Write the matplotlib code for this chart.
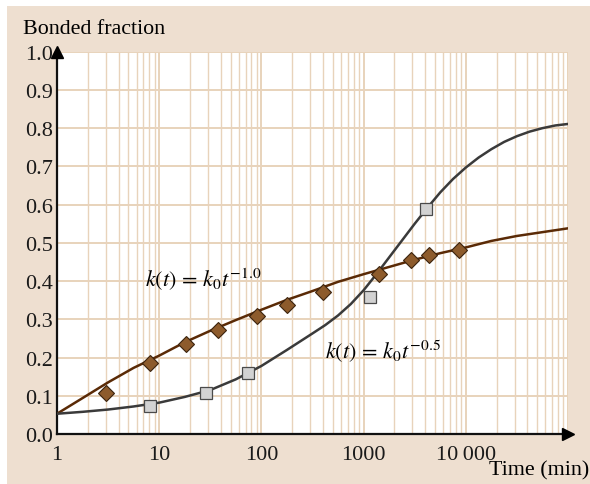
import numpy as np
import matplotlib
matplotlib.use('Agg')
import matplotlib.pyplot as plt
from matplotlib.patches import Rectangle
from matplotlib.ticker import FixedLocator, NullFormatter

plt.rcParams['font.family'] = ['Liberation Serif', 'DejaVu Serif']
plt.rcParams['mathtext.fontset'] = 'stix'

# Measured bonded fraction, t^-1.0 series (diamonds)
diamond_t = [3.0, 8.2, 18.3, 38, 90, 178, 404, 1425, 2910, 4400, 8650]
diamond_y = [0.107, 0.186, 0.236, 0.272, 0.308, 0.338, 0.372, 0.419, 0.454, 0.467, 0.482]

# Measured bonded fraction, t^-0.5 series (squares)
square_t = [8.2, 28.5, 73.5, 1164, 4075]
square_y = [0.0725, 0.107, 0.159, 0.359, 0.589]

# Model curve for k0*t^-1.0, quarter-decade steps from t = 1 to 1e5
m10_t = [1, 1.78, 3.16, 5.62, 10, 17.8, 31.6, 56.2, 100, 178, 316, 562,
         1000, 1778, 3162, 5623, 10000, 17783, 31623, 56234, 100000]
m10_y = [0.053, 0.094, 0.135, 0.173, 0.205, 0.240, 0.270, 0.298, 0.325,
         0.351, 0.374, 0.398, 0.418, 0.437, 0.456, 0.473, 0.488, 0.505,
         0.518, 0.528, 0.538]

# Model curve for k0*t^-0.5, finer steps where it bends most
m05_t = [1, 1.78, 3.16, 5.62, 10, 17.8, 31.6, 56.2, 100, 178, 316, 422, 562,
         750, 1000, 1334, 1778, 2371, 3162, 4217, 5623, 7499, 10000, 13335,
         17783, 23714, 31623, 42170, 56234, 74989, 100000]
m05_y = [0.053, 0.058, 0.064, 0.072, 0.082, 0.097, 0.115, 0.143, 0.178,
         0.220, 0.263, 0.285, 0.310, 0.340, 0.376, 0.418, 0.462, 0.506,
         0.550, 0.592, 0.632, 0.667, 0.697, 0.723, 0.745, 0.764, 0.779,
         0.791, 0.800, 0.807, 0.811]

y_ticks = [0.0, 0.1, 0.2, 0.3, 0.4, 0.5, 0.6, 0.7, 0.8, 0.9, 1.0]
x_ticks = [1, 10, 100, 1000, 10000]
x_labels = ['1', '10', '100', '1000', '10\u2009000']

beige = '#eedfd0'
grid_c = '#e8d3bb'

fig = plt.figure(figsize=(5.9, 4.85), dpi=100, facecolor='white')
fig.patches.append(Rectangle((7 / 590, 0), 1, 1 - 7 / 485, transform=fig.transFigure,
                             facecolor=beige, edgecolor='none', zorder=-10))

ax = fig.add_axes([57 / 590, 1 - 435 / 485, 511 / 590, 382.3 / 485])
ax.set_zorder(2)
ax.set_facecolor('white')
ax.set_xscale('log')
ax.set_xlim(1, 1e5)
ax.set_ylim(0, 1.0)

ax.set_yticks(y_ticks)
ax.set_yticklabels([f'{v:.1f}' for v in y_ticks], fontsize=16)
ax.set_xticks(x_ticks)
ax.set_xticklabels(x_labels, fontsize=16)
minor = [m * 10 ** d for d in range(5) for m in range(2, 10)]
ax.xaxis.set_minor_locator(FixedLocator(minor))
ax.xaxis.set_minor_formatter(NullFormatter())
ax.tick_params(axis='both', which='both', length=0, colors='#1a1a1a')
ax.tick_params(axis='x', pad=8)
ax.tick_params(axis='y', pad=3)

# grid: decades and tenths a bit heavier than the 2..9 lines
ax.grid(which='major', axis='both', color=grid_c, lw=1.4, zorder=0)
ax.grid(which='minor', axis='x', color=grid_c, lw=1.0, zorder=0)
ax.axvline(1e5, color=grid_c, lw=1.4, zorder=0)
ax.set_axisbelow(True)

for s in ['top', 'right']:
    ax.spines[s].set_visible(False)
for s in ['left', 'bottom']:
    ax.spines[s].set_linewidth(1.6)
    ax.spines[s].set_color('#111111')

# arrow heads on both axes
ax.plot(0, 1, marker='^', ms=9, color='black', transform=ax.transAxes, clip_on=False, zorder=6)
ax.plot(1, 0, marker='>', ms=9, color='black', transform=ax.transAxes, clip_on=False, zorder=6)

ax.plot(m10_t, m10_y, color='#5a2a06', lw=1.8, zorder=3)
ax.plot(m05_t, m05_y, color='#3a3a3a', lw=1.8, zorder=3)

ax.plot(diamond_t, diamond_y, ls='none', marker='D', ms=8, mfc='#8d5b2c',
        mec='#3b230e', mew=0.8, zorder=4)
ax.plot(square_t, square_y, ls='none', marker='s', ms=9, mfc='#d2d2d2',
        mec='#4a4a4a', mew=0.9, zorder=4)

ax.text(7.3, 0.405, r'$k(t)\,=\,k_0t^{-1.0}$', fontsize=16, va='center', ha='left')
ax.text(420, 0.217, r'$k(t)\,=\,k_0t^{-0.5}$', fontsize=16, va='center', ha='left')

fig.text(23 / 590, 1 - 30 / 485, 'Bonded fraction', fontsize=15.8, ha='left', va='center')
fig.text(589 / 590, 1 - 471 / 485, 'Time (min)', fontsize=15.8, ha='right', va='center')

fig.savefig('out.png', dpi=100, facecolor=fig.get_facecolor())
